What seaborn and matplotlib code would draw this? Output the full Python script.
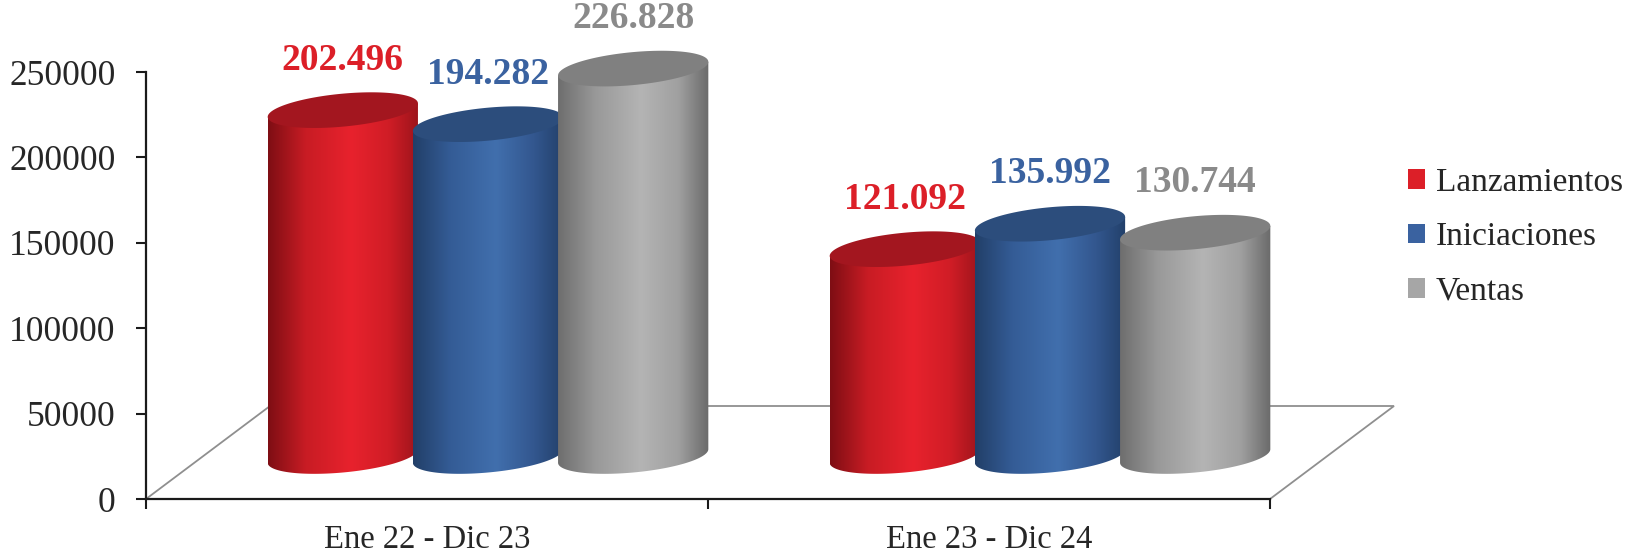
import numpy as np
import pandas as pd
import matplotlib
matplotlib.use("Agg")
import matplotlib.pyplot as plt
import seaborn as sns
from matplotlib.colors import LinearSegmentedColormap, to_hex
from matplotlib.patches import Polygon, Patch
from matplotlib.ticker import FuncFormatter

# Data
periodos = ["Ene 22 - Dic 23", "Ene 23 - Dic 24"]
series = ["Lanzamientos", "Iniciaciones", "Ventas"]
lanzamientos = [202496, 121092]
iniciaciones = [194282, 135992]
ventas = [226828, 130744]
y_ticks = [0, 50000, 100000, 150000, 200000, 250000]

# Colours: flat colour, label colour, cap colour, body gradient (left -> right)
colores = {"Lanzamientos": "#DC1F28", "Iniciaciones": "#3A62A0", "Ventas": "#A6A6A6"}
etiquetas_color = {"Lanzamientos": "#DC1F28", "Iniciaciones": "#3A62A0", "Ventas": "#8A8A8A"}
tapas = {"Lanzamientos": "#A3161F", "Iniciaciones": "#2C4D7C", "Ventas": "#808080"}
degradados = {
    "Lanzamientos": ["#7E0E14", "#C81C24", "#E8222D", "#D01D26", "#9C141B"],
    "Iniciaciones": ["#223F68", "#345C96", "#416FAD", "#33578F", "#22406A"],
    "Ventas": ["#6E6E6E", "#999999", "#B4B4B4", "#A0A0A0", "#6A6A6A"],
}
stops = [0.0, 0.25, 0.55, 0.8, 1.0]

df = pd.DataFrame({
    "periodo": periodos * 3,
    "serie": np.repeat(series, len(periodos)),
    "valor": lanzamientos + iniciaciones + ventas,
})

sns.set_theme(style="white")
plt.rcParams["font.family"] = ["Liberation Serif", "DejaVu Serif"]

# Layout (pixels of the 1639x554 canvas)
W, H = 1639, 554
AX_L, AX_R, AX_B, AX_T = 146, 1270, 499, 72
CYL_DX, CYL_DY = 61, 43          # cylinders sit half way into the floor
FLOOR_DX, FLOOR_DY = 124, 93     # depth of the 3D floor
CAP_B = 16.5                     # vertical semi axis of the caps (px)
CAP_TILT = 0.09                  # caps rise to the right
CYL_GROW = 1.035                 # cylinders overlap a bit
LOW_PAD = 40                     # room under the cylinders for the round bottoms

ax_w = AX_R - AX_L
ax_h = AX_B - AX_T
YMAX = 250000
px_x = ax_w / 2.0
px_y = ax_h / YMAX
YLOW = -LOW_PAD / px_y

fig = plt.figure(figsize=(W / 100, H / 100), dpi=100)
ax = fig.add_axes([AX_L / W, (H - AX_B) / H, ax_w / W, ax_h / H])
ax2 = fig.add_axes([(AX_L + CYL_DX) / W, (H - AX_B + CYL_DY - LOW_PAD) / H,
                    ax_w / W, (ax_h + LOW_PAD) / H])
ax2.set_zorder(ax.get_zorder() + 1)
ax2.patch.set_alpha(0)

# floor
floor = Polygon([(0, 0), (FLOOR_DX / ax_w, FLOOR_DY / ax_h),
                 (1 + FLOOR_DX / ax_w, FLOOR_DY / ax_h), (1, 0)],
                closed=True, transform=ax.transAxes, facecolor="white",
                edgecolor="#8F8F8F", lw=1.3, clip_on=False, zorder=0.5)
ax.add_patch(floor)

sns.barplot(data=df, x="periodo", y="valor", hue="serie", palette=colores,
            order=periodos, hue_order=series, width=0.775, saturation=1,
            legend=False, ax=ax2)

ax2.set_xlim(-0.5, 1.5)
ax2.set_ylim(YLOW, YMAX)
ax2.axis("off")

hex_to_serie = {to_hex(c): s for s, c in colores.items()}


def ellipse(cx, cy, a, t):
    xs = cx + a * np.cos(t)
    ys = cy + (CAP_B * np.sin(t) + CAP_TILT * a * px_x * np.cos(t)) / px_y
    return xs, ys


bars = sorted(ax2.patches, key=lambda p: p.get_x())
for i, bar in enumerate(bars):
    serie = hex_to_serie[to_hex(bar.get_facecolor())]
    cx = bar.get_x() + bar.get_width() / 2
    a = bar.get_width() / 2 * CYL_GROW
    h = bar.get_height()
    bar.set_visible(False)
    z = 2 + i * 3

    # body with the rounded bottom
    t = np.linspace(np.pi, 2 * np.pi, 80)
    bx, by = ellipse(cx, 0, a, t)
    shift = CAP_TILT * a * px_x / px_y
    body = Polygon(np.column_stack([np.r_[bx, cx + a, cx - a],
                                    np.r_[by, h + shift, h - shift]]),
                   closed=True, facecolor="none", edgecolor="none",
                   transform=ax2.transData)
    ax2.add_patch(body)
    cmap = LinearSegmentedColormap.from_list(serie, list(zip(stops, degradados[serie])))
    im = ax2.imshow(np.linspace(0, 1, 256)[None, :], cmap=cmap, aspect="auto",
                    extent=[cx - a, cx + a, by.min(), h + shift],
                    zorder=z, interpolation="bilinear")
    im.set_clip_path(body)

    # top cap
    tt = np.linspace(0, 2 * np.pi, 160)
    tx, ty = ellipse(cx, h, a, tt)
    ax2.add_patch(Polygon(np.column_stack([tx, ty]), closed=True,
                          facecolor=tapas[serie], edgecolor="none", zorder=z + 1))

    ax2.annotate(f"{int(h):,}".replace(",", "."), (cx, h), xytext=(0, 36),
                 textcoords="offset points", ha="center", va="center",
                 fontsize=27, fontweight="bold", color=etiquetas_color[serie],
                 zorder=30, annotation_clip=False)

ax2.set_xlim(-0.5, 1.5)
ax2.set_ylim(YLOW, YMAX)

# axes
ax.set_xlim(-0.5, 1.5)
ax.set_ylim(0, YMAX)
ax.set_facecolor("none")
for side in ["top", "right"]:
    ax.spines[side].set_visible(False)
for side in ["left", "bottom"]:
    ax.spines[side].set_color("#1A1A1A")
    ax.spines[side].set_linewidth(1.6)
    ax.spines[side].set_zorder(5)
ax.set_yticks(y_ticks)
ax.yaxis.set_major_formatter(FuncFormatter(lambda v, _: f"{int(v)}"))
ax.set_xticks([-0.5, 0.5, 1.5], labels=["", "", ""])
ax.set_xticks([0, 1], labels=periodos, minor=True)
ax.tick_params(axis="y", direction="out", length=7, width=1.5, pad=15,
               labelsize=25.5, color="#1A1A1A", left=True)
ax.tick_params(axis="x", which="major", direction="out", length=7.5, width=1.5,
               color="#1A1A1A", bottom=True)
ax.tick_params(axis="x", which="minor", length=0, pad=18, labelsize=23.5)
ax.set_xlabel("")
ax.set_ylabel("")

# legend
handles = [Patch(facecolor=colores[s], edgecolor="none") for s in series]
fig.legend(handles, series, loc="center left",
           bbox_to_anchor=(1408 / W, (H - 237) / H), frameon=False,
           fontsize=24, handlelength=0.52, handleheight=0.52,
           handletextpad=0.32, labelspacing=0.72, borderpad=0, borderaxespad=0)

fig.savefig("out.png", dpi=100)
